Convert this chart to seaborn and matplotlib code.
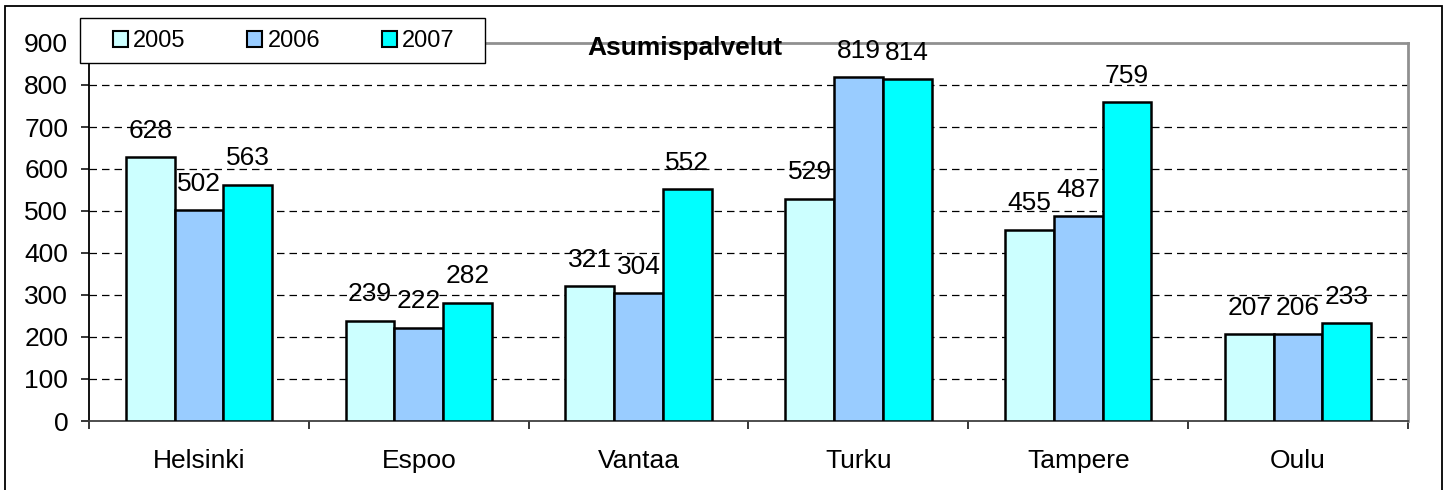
import numpy as np
import pandas as pd
import matplotlib.pyplot as plt
import seaborn as sns
from matplotlib.patches import Rectangle, Patch

# Data
cities = ["Helsinki", "Espoo", "Vantaa", "Turku", "Tampere", "Oulu"]
years = ["2005", "2006", "2007"]
v2005 = [628, 239, 321, 529, 455, 207]
v2006 = [502, 222, 304, 819, 487, 206]
v2007 = [563, 282, 552, 814, 759, 233]
title = "Asumispalvelut"

colors = ["#CCFFFF", "#99CCFF", "#00FFFF"]

df = pd.DataFrame({
    "city": cities * 3,
    "year": [y for y in years for _ in cities],
    "value": v2005 + v2006 + v2007,
})

sns.set_theme(style="white", rc={"text.color": "black", "xtick.color": "black",
                                 "ytick.color": "black", "axes.labelcolor": "black"})
plt.rcParams["font.family"] = ["Liberation Sans", "DejaVu Sans"]

fig = plt.figure(figsize=(14.5, 4.9), dpi=100)
W, H = 1450, 490
ax = fig.add_axes([89 / W, 1 - 421 / H, (1408 - 89) / W, (421 - 43) / H])

sns.barplot(data=df, x="city", y="value", hue="year", palette=colors,
            width=0.665, edgecolor="black", linewidth=1.8, saturation=1,
            legend=False, ax=ax, zorder=3)

ax.set_ylim(0, 900)
ax.set_xlim(-0.5, len(cities) - 0.5)
ax.set_yticks(np.arange(0, 1000, 100))
ax.set_xlabel("")
ax.set_ylabel("")

# dashed gridlines
for yv in range(100, 900, 100):
    ax.axhline(yv, color="black", lw=0.9, ls=(0, (6, 4)), zorder=1)

# spines
ax.spines["left"].set_color("black")
ax.spines["left"].set_linewidth(1.3)
ax.spines["bottom"].set_color("#404040")
ax.spines["bottom"].set_linewidth(1.3)
for s in ["top", "right"]:
    ax.spines[s].set_color("#909090")
    ax.spines[s].set_linewidth(2)

# ticks
ax.tick_params(axis="y", direction="out", length=6, width=1.1, color="black",
               labelsize=19, pad=9, left=True, labelcolor="black")
ax.tick_params(axis="x", which="major", length=0, labelsize=19, pad=20,
               labelcolor="black")
ax.set_xticks(np.arange(-0.5, len(cities), 1), minor=True)
ax.tick_params(axis="x", which="minor", direction="out", length=6, width=1.1,
               color="black", bottom=True)

# value labels
for cont in ax.containers:
    for p in cont:
        h = p.get_height()
        ax.annotate(f"{h:.0f}", (p.get_x() + p.get_width() / 2, h),
                    xytext=(0, 14), textcoords="offset points",
                    ha="center", va="baseline", fontsize=19, color="black",
                    zorder=5)

# title sitting on the top border
fig.text(685 / W, 1 - 48 / H, title, ha="center", va="center",
         fontsize=19, fontweight="bold", color="black")

# legend box drawn separately, entries placed inside it
fig.patches.append(Rectangle((80 / W, 1 - 63 / H), (485 - 80) / W, 45 / H,
                             transform=fig.transFigure, facecolor="white",
                             edgecolor="black", linewidth=1.0, zorder=4))
handles = [Patch(facecolor=c, edgecolor="black", linewidth=1.5) for c in colors]
leg = fig.legend(handles, years, loc="center left",
                 bbox_to_anchor=(113 / W, 1 - 41 / H), ncol=3, fontsize=17,
                 frameon=False, handlelength=0.64, handleheight=0.64,
                 handletextpad=0.22, columnspacing=2.6, borderpad=0,
                 borderaxespad=0)
leg.set_zorder(6)

# outer chart border
fig.patches.append(Rectangle((5 / W, -0.05), (1442 - 5) / W, 1 - 6 / H + 0.05,
                             transform=fig.transFigure, fill=False,
                             edgecolor="black", linewidth=1.3))

fig.savefig("out.png", dpi=100)
